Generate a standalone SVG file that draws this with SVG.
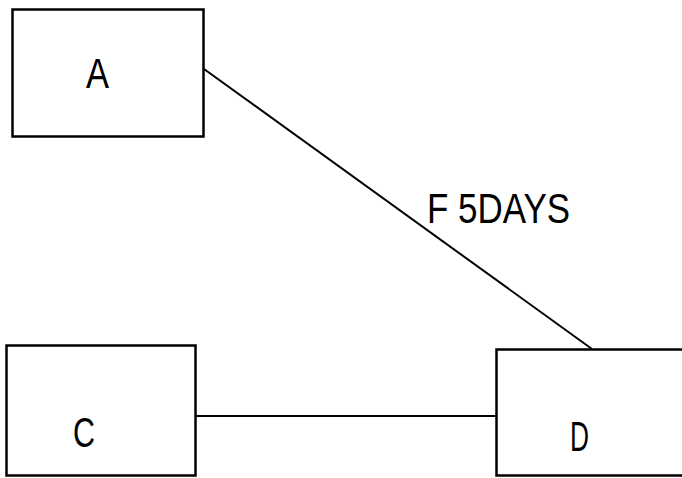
<svg xmlns="http://www.w3.org/2000/svg" width="682" height="478" viewBox="0 0 682 478">
<style>
.box{fill:none;stroke:#000;stroke-width:2.5}
.lbl{font-family:"Liberation Sans","DejaVu Sans",sans-serif;font-size:42px;fill:#000;font-weight:normal}
.edge{fill:none;stroke:#000;stroke-width:2}
</style>
<rect width="682" height="478" fill="#fff"/>
<g id="connectors">
<line class="edge" x1="204" y1="69" x2="592" y2="349"/>
<line class="edge" x1="195" y1="416" x2="496" y2="416"/>
<text class="lbl" x="427" y="223" textLength="143" lengthAdjust="spacingAndGlyphs">F 5DAYS</text>
</g>
<g id="A">
<rect class="box" x="12.5" y="9.5" width="191" height="127"/>
<text class="lbl" x="86" y="88" textLength="23" lengthAdjust="spacingAndGlyphs">A</text>
</g>
<g id="C">
<rect class="box" x="6.5" y="345.5" width="189" height="130"/>
<text class="lbl" x="73" y="447" textLength="22" lengthAdjust="spacingAndGlyphs" font-size="48">C</text>
</g>
<g id="D">
<rect class="box" x="496.5" y="349.5" width="200" height="126"/>
<text class="lbl" x="570" y="451" textLength="19" lengthAdjust="spacingAndGlyphs" font-size="47">D</text>
</g>
</svg>
